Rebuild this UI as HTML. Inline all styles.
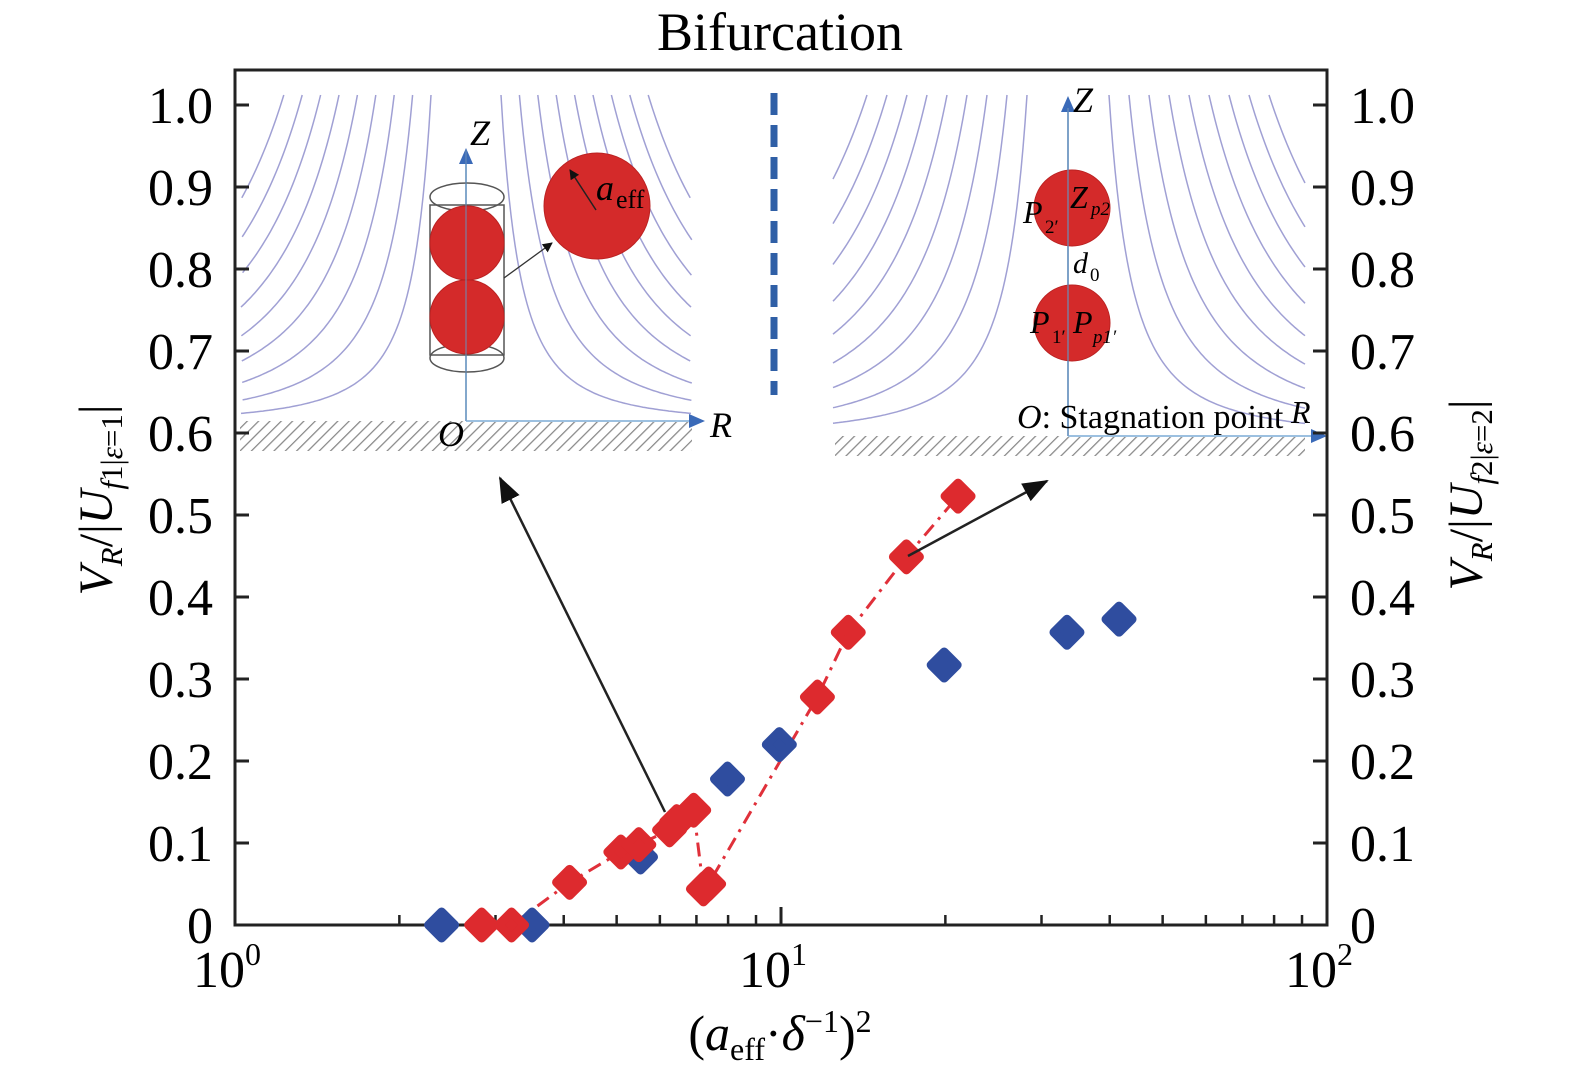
<!DOCTYPE html>
<html><head><meta charset="utf-8">
<style>
html,body{margin:0;padding:0;background:#fff;}
svg{display:block;font-family:"Liberation Serif",serif;}
</style></head>
<body>
<svg id="chart" width="1575" height="1083" viewBox="0 0 1575 1083" xmlns="http://www.w3.org/2000/svg">
<defs>
<pattern id="hatch" width="8" height="8" patternUnits="userSpaceOnUse" patternTransform="rotate(45)">
<rect width="8" height="8" fill="#fff"/><line x1="0" y1="0" x2="0" y2="8" stroke="#888" stroke-width="2.5"/>
</pattern>
<marker id="ah" markerWidth="10" markerHeight="10" refX="9" refY="5" orient="auto" markerUnits="userSpaceOnUse"><path d="M0,0 L10,5 L0,10 Z" fill="#111"/></marker>
<marker id="ahb" markerWidth="26" markerHeight="20" refX="24" refY="10" orient="auto" markerUnits="userSpaceOnUse"><path d="M0,0 L26,10 L0,20 Z" fill="#111"/></marker>
<marker id="ahblue" markerWidth="16" markerHeight="14" refX="14" refY="7" orient="auto" markerUnits="userSpaceOnUse"><path d="M0,0 L16,7 L0,14 Z" fill="#3a6ab8"/></marker>
</defs>
<text x="780" y="50" font-size="54" text-anchor="middle">Bifurcation</text>
<g id="insets"></g>
<g id="axes"></g>
<g id="series"></g>
<text transform="translate(112,500) rotate(-90)" font-size="48" text-anchor="middle"><tspan font-style="italic">V</tspan><tspan font-style="italic" font-size="31" dy="10">R</tspan><tspan dy="-10">/|</tspan><tspan font-style="italic">U</tspan><tspan font-size="31" dy="10"><tspan font-style="italic">f</tspan>1|<tspan font-style="italic">ε</tspan>=1</tspan><tspan dy="-10">|</tspan></text>
<text transform="translate(1482,495) rotate(-90)" font-size="48" text-anchor="middle"><tspan font-style="italic">V</tspan><tspan font-style="italic" font-size="31" dy="10">R</tspan><tspan dy="-10">/|</tspan><tspan font-style="italic">U</tspan><tspan font-size="31" dy="10"><tspan font-style="italic">f</tspan>2|<tspan font-style="italic">ε</tspan>=2</tspan><tspan dy="-10">|</tspan></text>
<text x="780" y="1050" font-size="50" text-anchor="middle">(<tspan font-style="italic">a</tspan><tspan font-size="32" dy="10">eff</tspan><tspan dy="-10">·</tspan><tspan font-style="italic">δ</tspan><tspan font-size="32" dy="-18">−1</tspan><tspan dy="18">)</tspan><tspan font-size="32" dy="-18">2</tspan></text>
</svg>
<script>
// ---- data ----
const blueX = [2.39, 3.50, 5.53, 7.98, 9.93, 19.9, 33.4, 41.6];
const blueY = [0, 0, 0.083, 0.178, 0.220, 0.317, 0.357, 0.373];
const redX = [2.83, 3.21, 4.10, 5.09, 5.49, 6.25, 6.44, 6.92, 7.21, 7.37, 11.66, 13.28, 16.97, 21.1];
const redY = [0, 0, 0.052, 0.089, 0.098, 0.116, 0.126, 0.140, 0.044, 0.050, 0.278, 0.357, 0.449, 0.523];
const yTicks = [0, 0.1, 0.2, 0.3, 0.4, 0.5, 0.6, 0.7, 0.8, 0.9, 1.0];
const yTickLabels = ["0","0.1","0.2","0.3","0.4","0.5","0.6","0.7","0.8","0.9","1.0"];
const xDecades = [0, 1, 2];

const NS = "http://www.w3.org/2000/svg";
const L = 235, R = 1327, T = 70, B = 925;
const X0 = 235, DEC = 546;
const Y0 = 925, YS = 820;
function sx(v){ return X0 + Math.log10(v) * DEC; }
function sy(v){ return Y0 - v * YS; }
function mk(tag, attrs, parent){ const e = document.createElementNS(NS, tag); for (const k in attrs) e.setAttribute(k, attrs[k]); parent.appendChild(e); return e; }

// ---- insets ----
const ins = document.getElementById('insets');
function streams(cx, x1, x2, yTop, yG, top0, step, n, name){
  const g = mk('g', {}, ins);
  
  
  const p = 1.8, hTop = yG - yTop;
  for (let side of [-1, 1]) {
    const wmax = side < 0 ? cx - x1 : x2 - cx;
    for (let k = 0; k < n; k++) {
      const dxTop = top0 + step * k;
      if (dxTop > wmax) break;
      const c = hTop * Math.pow(dxTop, p);
      let d = '';
      for (let dx = dxTop; dx <= wmax + 0.1; dx += 2) {
        const dz = c / Math.pow(dx, p);
        d += (d ? 'L' : 'M') + (cx + side * dx).toFixed(1) + ',' + (yG - dz).toFixed(1);
      }
      const path = mk('path', {d: d, fill: 'none', stroke: '#a0a0d4', 'stroke-width': 1.5}, g);
      
      
    }
  }
}
streams(466, 241, 692, 95, 425, 35, 18.4, 9, 'left-streamlines');
streams(1068, 833, 1305, 95, 438, 41, 20, 9, 'right-streamlines');
let h1 = mk('rect', {x: 240, y: 421, width: 452, height: 30, fill: 'url(#hatch)'}, ins);
 
let h2 = mk('rect', {x: 835, y: 436, width: 470, height: 20, fill: 'url(#hatch)'}, ins);
 
mk('line', {x1: 466, y1: 421, x2: 466, y2: 150, stroke: '#9cc0e0', 'stroke-width': 2, 'marker-end': 'url(#ahblue)'}, ins);
mk('line', {x1: 466, y1: 421, x2: 703, y2: 421, stroke: '#9cc0e0', 'stroke-width': 2, 'marker-end': 'url(#ahblue)'}, ins);
mk('rect', {x: 430, y: 205, width: 74, height: 150, fill: 'none', stroke: '#555', 'stroke-width': 1.5}, ins);
mk('ellipse', {cx: 467, cy: 197, rx: 37, ry: 14, fill: 'none', stroke: '#555', 'stroke-width': 1.5}, ins);
mk('ellipse', {cx: 467, cy: 358, rx: 37, ry: 14, fill: 'none', stroke: '#555', 'stroke-width': 1.5}, ins);
mk('circle', {cx: 467, cy: 243, r: 37, fill: '#d42a2a', stroke: '#b22', 'stroke-width': 1}, ins);
mk('circle', {cx: 467, cy: 317, r: 37, fill: '#d42a2a', stroke: '#b22', 'stroke-width': 1}, ins);
mk('line', {x1: 466, y1: 150, x2: 466, y2: 421, stroke: '#6a8fb8', 'stroke-width': 1}, ins);
mk('line', {x1: 504, y1: 278, x2: 552, y2: 243, stroke: '#333', 'stroke-width': 1.3, 'marker-end': 'url(#ah)'}, ins);
mk('circle', {cx: 597, cy: 206, r: 53, fill: '#d42a2a', stroke: '#b22', 'stroke-width': 1}, ins);
mk('line', {x1: 596, y1: 210, x2: 570, y2: 170, stroke: '#222', 'stroke-width': 1.5, 'marker-end': 'url(#ah)'}, ins);
let t;
t = mk('text', {x: 596, y: 200, 'font-size': 36, 'font-style': 'italic'}, ins); t.textContent = 'a';
t = mk('text', {x: 616, y: 208, 'font-size': 26}, ins); t.textContent = 'eff';
t = mk('text', {x: 470, y: 145, 'font-size': 36, 'font-style': 'italic'}, ins); t.textContent = 'Z';
t = mk('text', {x: 438, y: 446, 'font-size': 36, 'font-style': 'italic'}, ins); t.textContent = 'O';
t = mk('text', {x: 710, y: 437, 'font-size': 36, 'font-style': 'italic'}, ins); t.textContent = 'R';
let dv = mk('line', {x1: 774, y1: 93, x2: 774, y2: 395, stroke: '#2f5fa6', 'stroke-width': 7, 'stroke-dasharray': '22 10'}, ins);
 
mk('line', {x1: 1068, y1: 436, x2: 1068, y2: 98, stroke: '#9cc0e0', 'stroke-width': 2, 'marker-end': 'url(#ahblue)'}, ins);
mk('line', {x1: 1068, y1: 436, x2: 1325, y2: 436, stroke: '#9cc0e0', 'stroke-width': 2, 'marker-end': 'url(#ahblue)'}, ins);
mk('circle', {cx: 1072, cy: 208, r: 38, fill: '#d42a2a', stroke: '#b22', 'stroke-width': 1}, ins);
mk('circle', {cx: 1072, cy: 323, r: 38, fill: '#d42a2a', stroke: '#b22', 'stroke-width': 1}, ins);
mk('line', {x1: 1068, y1: 108, x2: 1068, y2: 436, stroke: '#6a8fb8', 'stroke-width': 1.2}, ins);
t = mk('text', {x: 1073, y: 112, 'font-size': 36, 'font-style': 'italic'}, ins); t.textContent = 'Z';
t = mk('text', {x: 1070, y: 208, 'font-size': 32, 'font-style': 'italic'}, ins); t.textContent = 'Z';
t = mk('text', {x: 1091, y: 215, 'font-size': 19, 'font-style': 'italic'}, ins); t.textContent = 'p2';
t = mk('text', {x: 1023, y: 223, 'font-size': 32, 'font-style': 'italic'}, ins); t.textContent = 'P';
t = mk('text', {x: 1045, y: 233, 'font-size': 19}, ins); t.textContent = '2′';
t = mk('text', {x: 1073, y: 273, 'font-size': 30, 'font-style': 'italic'}, ins); t.textContent = 'd';
t = mk('text', {x: 1090, y: 281, 'font-size': 19}, ins); t.textContent = '0';
t = mk('text', {x: 1030, y: 333, 'font-size': 32, 'font-style': 'italic'}, ins); t.textContent = 'P';
t = mk('text', {x: 1052, y: 343, 'font-size': 19}, ins); t.textContent = '1′';
t = mk('text', {x: 1073, y: 333, 'font-size': 32, 'font-style': 'italic'}, ins); t.textContent = 'P';
t = mk('text', {x: 1093, y: 343, 'font-size': 19, 'font-style': 'italic'}, ins); t.textContent = 'p1′';
t = mk('text', {x: 1017, y: 428, 'font-size': 34}, ins); t.innerHTML = '<tspan font-style="italic">O</tspan>: Stagnation point';
t = mk('text', {x: 1291, y: 423, 'font-size': 32, 'font-style': 'italic'}, ins); t.textContent = 'R';

// ---- axes ----
const ax = document.getElementById('axes');
let frame = mk('rect', {x: L, y: T, width: R - L, height: B - T, fill: 'none', stroke: '#222', 'stroke-width': 3}, ax);
 
yTicks.forEach((v, i) => {
  const y = sy(v);
  mk('line', {x1: L, y1: y, x2: L + 14, y2: y, stroke: '#222', 'stroke-width': 3}, ax);
  mk('line', {x1: R, y1: y, x2: R - 14, y2: y, stroke: '#222', 'stroke-width': 3}, ax);
  const tl = mk('text', {x: 213, y: y + 18, 'font-size': 52, 'text-anchor': 'end'}, ax);
  tl.textContent = yTickLabels[i];
  
  
  const tr = mk('text', {x: 1350, y: y + 18, 'font-size': 52, 'text-anchor': 'start'}, ax);
  tr.textContent = yTickLabels[i];
  
  
});
xDecades.forEach(d => {
  const x = sx(Math.pow(10, d));
  mk('line', {x1: x, y1: B, x2: x, y2: B - 18, stroke: '#222', 'stroke-width': 3}, ax);
  const lb = mk('text', {x: x - 8, y: 987, 'font-size': 52, 'text-anchor': 'middle'}, ax);
  lb.innerHTML = '10<tspan font-size="32" dy="-22">' + d + '</tspan>';
  
  
  if (d < 2) for (let m = 2; m <= 9; m++) {
    const xm = sx(m * Math.pow(10, d));
    mk('line', {x1: xm, y1: B, x2: xm, y2: B - 10, stroke: '#222', 'stroke-width': 2.5}, ax);
  }
});

// ---- series ----
const sg = document.getElementById('series');
let pts = redX.map((x, i) => sx(x).toFixed(1) + ',' + sy(redY[i]).toFixed(1)).join(' ');
let rl = mk('polyline', {points: pts, fill: 'none', stroke: '#e0303a', 'stroke-width': 3, 'stroke-dasharray': '14 7 3 7'}, sg);


function diamond(x, y, color){
  const s = 13;
  return mk('path', {d: `M${x},${y - s} L${x + s},${y} L${x},${y + s} L${x - s},${y} Z`, fill: color, stroke: color, 'stroke-width': 9, 'stroke-linejoin': 'round'}, sg);
}
blueX.forEach((x, i) => {
  const m = diamond(sx(x), sy(blueY[i]), '#2f4d9f');
  
  
});
redX.forEach((x, i) => {
  const m = diamond(sx(x), sy(redY[i]), '#dd2a2e');
  
  
});
let a1 = mk('line', {x1: 665, y1: 812, x2: 500, y2: 478, stroke: '#222', 'stroke-width': 2.5, 'marker-end': 'url(#ahb)'}, sg);
 
let a2 = mk('line', {x1: 908, y1: 556, x2: 1047, y2: 481, stroke: '#222', 'stroke-width': 2.5, 'marker-end': 'url(#ahb)'}, sg);
 
</script>
</body></html>
